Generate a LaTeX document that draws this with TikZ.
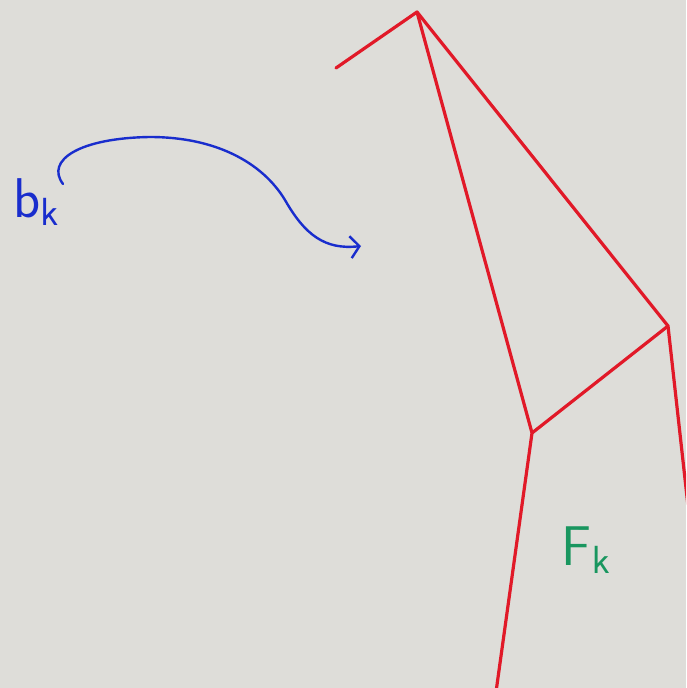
\documentclass[tikz,border=0pt]{standalone}
\usepackage{fix-cm}
\usetikzlibrary{arrows.meta}
\definecolor{paper}{RGB}{222,221,217}
\definecolor{pred}{RGB}{225,25,40}
\definecolor{pblue}{RGB}{25,45,205}
\definecolor{pgreen}{RGB}{25,150,95}
\tikzset{
  edge/.style={draw=pred,line width=3.2pt,line cap=round,line join=round},
  flow/.style={draw=pblue,line width=2.4pt,line cap=round,-{Straight Barb[length=9pt,width=22pt,line width=2.4pt]}},
  lbl/.style={font=\fontsize{56}{56}\selectfont,inner sep=0pt}
}
\begin{document}
\begin{tikzpicture}[x=1pt,y=-1pt]
\fill[paper] (0,0) rectangle (686,688);
\useasboundingbox (0,0) rectangle (686,688);
\coordinate (A) at (417,12);
\coordinate (S) at (336,68);
\coordinate (B) at (532,433);
\coordinate (C) at (668,326);
\coordinate (D) at (694,560);
\coordinate (E) at (496,692);
\begin{scope}
\clip (0,0) rectangle (686,688);
\draw[edge] (S) -- (A) -- (B) -- (E);
\draw[edge] (A) -- (C) -- (D);
\draw[edge] (B) -- (C);
\end{scope}
\node[lbl,text=pblue] (bk) at (36,202) {$\mathsf{b}_{\mathsf{k}}$};
\node[lbl,text=pgreen] (Fk) at (586,550) {$\mathsf{F}_{\mathsf{k}}$};
\coordinate (s0) at (63,184);
\coordinate (t0) at (361,246);
\draw[flow] (s0) .. controls (45,160) and (80,138) .. (150,137)
  .. controls (215,137) and (262,162) .. (285,200)
  .. controls (305,235) and (325,250) .. (t0);
\end{tikzpicture}
\end{document}
